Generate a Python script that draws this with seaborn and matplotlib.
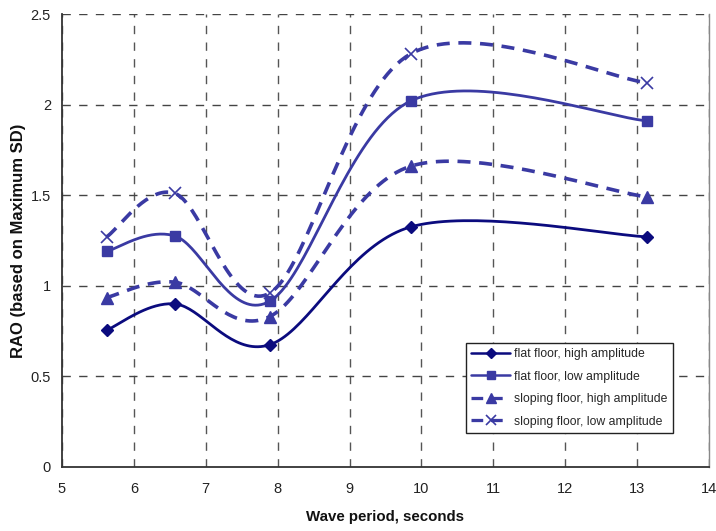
import numpy as np
import pandas as pd
import matplotlib
matplotlib.use("Agg")
import matplotlib.pyplot as plt
from matplotlib.lines import Line2D
import seaborn as sns

# Wave periods (s) at which RAO was measured
periods = [5.62, 6.57, 7.89, 9.85, 13.14]

# RAO values for each test configuration
flat_high = [0.755, 0.90, 0.675, 1.325, 1.27]
flat_low = [1.19, 1.275, 0.915, 2.02, 1.91]
slope_high = [0.935, 1.02, 0.83, 1.66, 1.49]
slope_low = [1.27, 1.51, 0.96, 2.28, 2.12]

labels = ["flat floor, high amplitude", "flat floor, low amplitude",
          "sloping floor, high amplitude", "sloping floor, low amplitude"]


def smooth(xs, ys, n=40):
    """Spreadsheet-style smoothed line: cubic Bezier segments with
    control points taken from neighbouring points (tension 1/6)."""
    P = np.column_stack([xs, ys]).astype(float)
    out = []
    for i in range(len(P) - 1):
        p0 = P[i - 1] if i > 0 else P[i]
        p1, p2 = P[i], P[i + 1]
        p3 = P[i + 2] if i + 2 < len(P) else P[i + 1]
        c1 = p1 + (p2 - p0) / 6.0
        c2 = p2 - (p3 - p1) / 6.0
        t = np.linspace(0, 1, n)[:, None]
        seg = ((1 - t) ** 3) * p1 + 3 * ((1 - t) ** 2) * t * c1 + 3 * (1 - t) * t ** 2 * c2 + t ** 3 * p2
        out.append(seg if i == 0 else seg[1:])
    pts = np.vstack(out)
    return pts[:, 0], pts[:, 1]


sns.set_theme(style="white")
plt.rcParams["font.family"] = ["Liberation Sans", "DejaVu Sans"]

fig = plt.figure(figsize=(7.16, 5.31), dpi=100)
ax = fig.add_axes([62 / 716, 64 / 531, 647 / 716, 453 / 531])

navy = "#0b0b7e"
blue = "#3a3aa3"
styles = [
    dict(color=navy, lw=2.0, marker="D", ms=6.5, mew=1.0, dashes=None),
    dict(color=blue, lw=2.0, marker="s", ms=7.5, mew=1.0, dashes=None),
    dict(color=blue, lw=2.6, marker="^", ms=8.5, mew=1.0, dashes=(3.6, 2.4)),
    dict(color=blue, lw=2.6, marker="x", ms=8.5, mew=1.2, dashes=(3.6, 2.4)),
]
series = [flat_high, flat_low, slope_high, slope_low]

# Dashed grid behind the curves
for xv in range(5, 15):
    ax.axvline(xv, color="#555555", lw=1.0, ls=(0, (6, 6)), zorder=0)
for yv in np.arange(0.5, 2.51, 0.5):
    ax.axhline(yv, color="#444444", lw=1.0, ls=(0, (6, 6)), zorder=0)

handles = []
for vals, st, lab in zip(series, styles, labels):
    sx, sy = smooth(periods, vals)
    df = pd.DataFrame({"T": sx, "RAO": sy})
    ls = (0, st["dashes"]) if st["dashes"] else "-"
    sns.lineplot(data=df, x="T", y="RAO", sort=False, estimator=None,
                 color=st["color"], lw=st["lw"], linestyle=ls,
                 legend=False, ax=ax, zorder=3)
    ax.plot(periods, vals, ls="none", marker=st["marker"], ms=st["ms"],
            color=st["color"], mec=st["color"], mew=st["mew"], zorder=4)
    handles.append(Line2D([0], [0], color=st["color"], lw=st["lw"] * 0.9, ls=ls,
                          marker=st["marker"], ms=st["ms"] * 0.85,
                          mec=st["color"], mew=st["mew"]))

ax.set_xlim(5, 14)
ax.set_ylim(0, 2.5)
ax.set_xticks(range(5, 15))
ax.set_yticks([0, 0.5, 1, 1.5, 2, 2.5])
ax.set_yticklabels(["0", "0.5", "1", "1.5", "2", "2.5"])

for side in ["left", "bottom"]:
    ax.spines[side].set_color("#333333")
    ax.spines[side].set_linewidth(1.3)
ax.spines["right"].set_color("#888888")
ax.spines["right"].set_linewidth(1.0)
ax.spines["top"].set_visible(False)

ax.tick_params(axis="both", which="both", direction="out", length=5, width=1.0,
               color="#333333", labelsize=10.5, labelcolor="#222222")
ax.tick_params(axis="x", pad=6)
ax.tick_params(axis="y", pad=3)

ax.set_xlabel("Wave period, seconds", fontsize=10.8, fontweight="bold",
              color="#111111", labelpad=10)
ax.set_ylabel("RAO (based on Maximum SD)", fontsize=12, fontweight="bold",
              color="#111111", labelpad=3)

leg = ax.legend(handles, labels, loc="upper left", bbox_to_anchor=(0.624, 0.274),
                borderaxespad=0, frameon=True, fancybox=False, shadow=False,
                fontsize=8.8, handlelength=3.2, handletextpad=0.3,
                labelspacing=0.85, borderpad=0.45)
leg.get_frame().set_edgecolor("#222222")
leg.get_frame().set_linewidth(1.0)
leg.get_frame().set_facecolor("white")
leg.get_frame().set_alpha(1.0)
leg.set_zorder(10)

fig.savefig("out.png", dpi=100, facecolor="white")
